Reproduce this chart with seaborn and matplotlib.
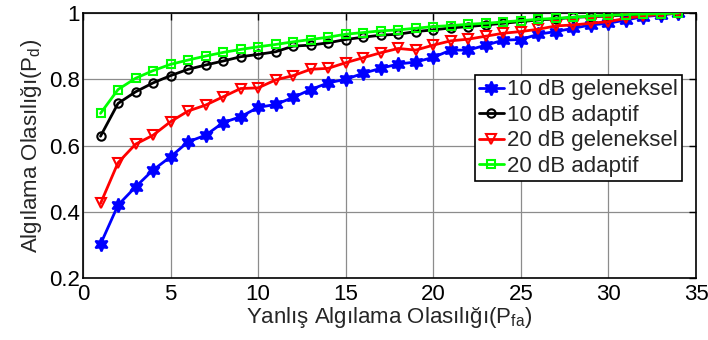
import matplotlib
matplotlib.use("Agg")
import matplotlib.pyplot as plt
import seaborn as sns
import numpy as np

pfa = list(range(1, 35))

blue_10_geleneksel = [0.302, 0.420, 0.475, 0.526, 0.566, 0.611, 0.631, 0.669, 0.687, 0.715,
                      0.724, 0.745, 0.769, 0.789, 0.800, 0.818, 0.833, 0.846, 0.852, 0.866,
                      0.888, 0.888, 0.903, 0.918, 0.920, 0.936, 0.944, 0.954, 0.964, 0.969,
                      0.979, 0.989, 0.994, 1.000]
black_10_adaptif = [0.628, 0.727, 0.762, 0.789, 0.811, 0.830, 0.843, 0.855, 0.868, 0.875,
                    0.883, 0.900, 0.903, 0.910, 0.920, 0.927, 0.933, 0.936, 0.944, 0.949,
                    0.955, 0.959, 0.964, 0.969, 0.974, 0.979, 0.982, 0.987, 0.989, 0.991,
                    0.994, 0.996, 0.997, 1.000]
red_20_geleneksel = [0.425, 0.548, 0.604, 0.631, 0.672, 0.704, 0.722, 0.747, 0.772, 0.774,
                     0.798, 0.811, 0.830, 0.833, 0.850, 0.865, 0.880, 0.893, 0.888, 0.903,
                     0.916, 0.921, 0.930, 0.939, 0.944, 0.951, 0.961, 0.964, 0.969, 0.974,
                     0.984, 0.991, 0.996, 1.000]
green_20_adaptif = [0.697, 0.769, 0.803, 0.826, 0.845, 0.858, 0.870, 0.881, 0.890, 0.898,
                    0.905, 0.913, 0.920, 0.927, 0.936, 0.941, 0.946, 0.949, 0.954, 0.959,
                    0.962, 0.966, 0.969, 0.973, 0.977, 0.981, 0.984, 0.987, 0.991, 0.993,
                    0.995, 0.997, 0.998, 1.000]

labels = ["10 dB geleneksel", "10 dB adaptif", "20 dB geleneksel", "20 dB adaptif"]
xticks = [0, 5, 10, 15, 20, 25, 30, 35]
yticks = [0.2, 0.4, 0.6, 0.8, 1.0]
ytick_labels = ["0.2", "0.4", "0.6", "0.8", "1"]

sns.set_style("white")
plt.rcParams['font.family'] = ['Liberation Sans', 'DejaVu Sans']
plt.rcParams['mathtext.default'] = 'regular'

fig = plt.figure(figsize=(7.08, 3.4), dpi=100)
ax = fig.add_axes([83/708, 1 - 278/340, (696-83)/708, (278-13)/340])

styles = [
    (blue_10_geleneksel, "#0000ff", (6, 1, 0), "#0000ff", 10),
    (black_10_adaptif, "#000000", "o", "none", 6),
    (red_20_geleneksel, "#ff0000", "v", "none", 7),
    (green_20_adaptif, "#00ff00", "s", "none", 5.5),
]
for (vals, col, mk, fc, ms), lab in zip(styles, labels):
    sns.lineplot(x=pfa, y=vals, ax=ax, color=col, marker=mk, markersize=ms,
                 markerfacecolor=fc, markeredgecolor=col, markeredgewidth=1.5,
                 linewidth=2, label=lab, zorder=3)

ax.set_xlim(0, 35)
ax.set_ylim(0.2, 1.0)
ax.set_xticks(xticks)
ax.set_xticklabels([str(v) for v in xticks])
ax.set_yticks(yticks)
ax.set_yticklabels(ytick_labels)
ax.grid(True, color="#8c8c8c", linewidth=0.9, linestyle='-')
ax.set_axisbelow(True)
ax.tick_params(direction='in', top=True, right=True, length=5, width=1, labelsize=16,
               colors='black')
ax.tick_params(axis='x', pad=4)
ax.tick_params(axis='y', pad=2)
for s in ax.spines.values():
    s.set_color('black')
    s.set_linewidth(1.2)

ax.set_xlabel("Yanlış Algılama Olasılığı(P$_{fa}$)", fontsize=16, labelpad=0)
ax.set_ylabel("Algılama Olasılığı(P$_{d}$)", fontsize=16, labelpad=4)

leg = ax.legend(loc='upper left', bbox_to_anchor=(0.639, 0.766), borderaxespad=0,
                fontsize=16, frameon=True, fancybox=False, edgecolor='black',
                framealpha=1, handlelength=1.1, handletextpad=0.15, labelspacing=0.2,
                borderpad=0.2)
leg.get_frame().set_linewidth(1.2)

fig.savefig("out.png", dpi=100)
